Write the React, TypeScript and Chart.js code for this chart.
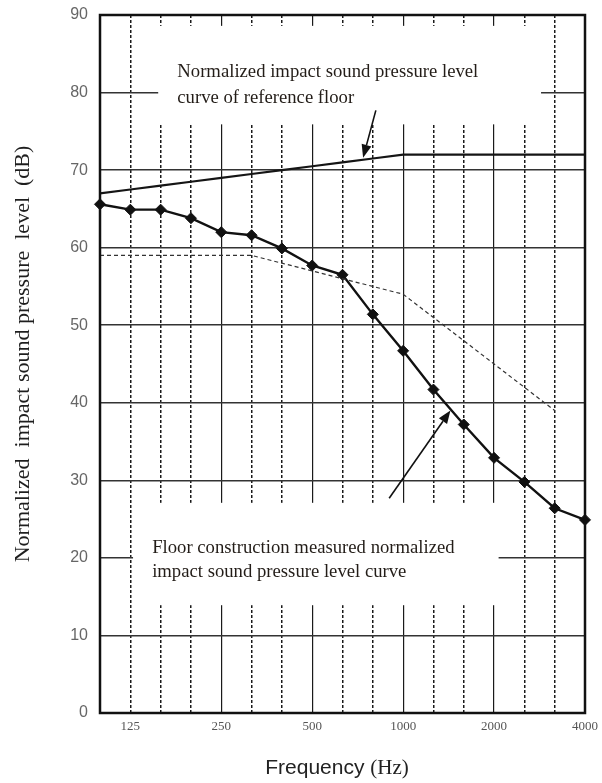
import { useEffect, useRef } from "react";
import { Chart, registerables } from "chart.js";

Chart.register(...registerables);

// ---- data ----
const frequencies = ["100", "125", "160", "200", "250", "315", "400", "500", "630", "800", "1000", "1250", "1600", "2000", "2500", "3150", "4000"];
const shownFrequencyLabels = ["125", "250", "500", "1000", "2000", "4000"];
const solidGridFrequencies = ["250", "500", "1000", "2000"];
const referenceFloorCurve = [67, 67.5, 68, 68.5, 69, 69.5, 70, 70.5, 71, 71.5, 72, 72, 72, 72, 72, 72, 72];
const measuredCurve = [65.6, 64.9, 64.9, 63.8, 62.0, 61.6, 59.9, 57.7, 56.5, 51.4, 46.7, 41.7, 37.2, 32.9, 29.8, 26.4, 24.9];
const dashedCurve = [59, 59, 59, 59, 59, 59, 58, 57, 56, 55, 54, 51, 48, 45, 42, 39, null];
const yMin = 0;
const yMax = 90;
const yStep = 10;

const referenceLabelLines = ["Normalized impact sound pressure level", "curve of reference floor"];
const measuredLabelLines = ["Floor construction measured normalized", "impact sound pressure level curve"];
const yTitle = "Normalized  impact sound pressure  level  (dB)";
const xTitleMain = "Frequency ";
const xTitleUnit = "(Hz)";

// annotation layout, in data coordinates (category index, dB)
const boxes = [
  { x0: 1.92, x1: 14.55, y0: 75.9, y1: 88.6 },
  { x0: 1.09, x1: 13.15, y0: 13.9, y1: 27.1 },
];
const labels = [
  { x: 2.55, ys: [82.7, 79.35], lines: referenceLabelLines },
  { x: 1.72, ys: [21.3, 18.2], lines: measuredLabelLines },
];
const arrows = [
  { x0: 9.1, y0: 77.7, x1: 8.68, y1: 71.6 },
  { x0: 9.54, y0: 27.7, x1: 11.56, y1: 39.0 },
];

const decorPlugin = {
  id: "decor",
  beforeDatasetsDraw(chart: any) {
    const { ctx } = chart;
    const xs = chart.scales.x;
    const ys = chart.scales.y;
    ctx.save();
    ctx.fillStyle = "#ffffff";
    for (const b of boxes) {
      const l = xs.getPixelForValue(b.x0);
      const r = xs.getPixelForValue(b.x1);
      const t = ys.getPixelForValue(b.y1);
      const bt = ys.getPixelForValue(b.y0);
      ctx.fillRect(l, t, r - l, bt - t);
    }
    ctx.fillStyle = "#231d18";
    ctx.font = "18.7px 'Liberation Serif', 'Times New Roman', serif";
    ctx.textAlign = "left";
    ctx.textBaseline = "middle";
    for (const lb of labels) {
      const x = xs.getPixelForValue(lb.x);
      lb.lines.forEach((line, i) => {
        ctx.fillText(line, x, ys.getPixelForValue(lb.ys[i]));
      });
    }
    ctx.restore();
  },
  afterDatasetsDraw(chart: any) {
    const { ctx } = chart;
    const xs = chart.scales.x;
    const ys = chart.scales.y;
    ctx.save();
    ctx.strokeStyle = "#111";
    ctx.fillStyle = "#111";
    ctx.lineWidth = 1.6;
    for (const a of arrows) {
      const x0 = xs.getPixelForValue(a.x0);
      const y0 = ys.getPixelForValue(a.y0);
      const x1 = xs.getPixelForValue(a.x1);
      const y1 = ys.getPixelForValue(a.y1);
      const ang = Math.atan2(y1 - y0, x1 - x0);
      const hl = 13;
      const hw = 5;
      const bx = x1 - hl * Math.cos(ang);
      const by = y1 - hl * Math.sin(ang);
      ctx.beginPath();
      ctx.moveTo(x0, y0);
      ctx.lineTo(bx, by);
      ctx.stroke();
      ctx.beginPath();
      ctx.moveTo(x1, y1);
      ctx.lineTo(bx + hw * Math.sin(ang), by - hw * Math.cos(ang));
      ctx.lineTo(bx - hw * Math.sin(ang), by + hw * Math.cos(ang));
      ctx.closePath();
      ctx.fill();
    }
    ctx.restore();
  },
  afterDraw(chart: any) {
    const { ctx, chartArea } = chart;
    ctx.save();
    ctx.strokeStyle = "#111";
    ctx.lineWidth = 2.5;
    ctx.strokeRect(chartArea.left, chartArea.top, chartArea.right - chartArea.left, chartArea.bottom - chartArea.top);

    // y title
    ctx.fillStyle = "#1e1e1e";
    ctx.font = "22px 'Liberation Serif', 'Times New Roman', serif";
    ctx.textAlign = "center";
    ctx.textBaseline = "middle";
    ctx.translate(23, 354);
    ctx.rotate(-Math.PI / 2);
    ctx.fillText(yTitle, 0, 0);
    ctx.restore();

    // x title
    ctx.save();
    ctx.textBaseline = "middle";
    ctx.textAlign = "left";
    const mainFont = "21px 'Liberation Sans', Arial, sans-serif";
    const unitFont = "21px 'Liberation Serif', 'Times New Roman', serif";
    ctx.font = mainFont;
    const w1 = ctx.measureText(xTitleMain).width;
    ctx.font = unitFont;
    const w2 = ctx.measureText(xTitleUnit).width;
    const cx = 337;
    const cy = 768;
    const startX = cx - (w1 + w2) / 2;
    ctx.fillStyle = "#222";
    ctx.font = mainFont;
    ctx.fillText(xTitleMain, startX, cy);
    ctx.font = unitFont;
    ctx.fillText(xTitleUnit, startX + w1, cy);
    ctx.restore();
  },
};

export default function App() {
  const canvasRef = useRef<HTMLCanvasElement | null>(null);

  useEffect(() => {
    if (!canvasRef.current) return;
    const chart = new Chart(canvasRef.current, {
      type: "line",
      data: {
        labels: frequencies,
        datasets: [
          {
            label: "Reference floor",
            data: referenceFloorCurve,
            borderColor: "#151515",
            borderWidth: 2.2,
            pointRadius: 0,
            tension: 0,
            fill: false,
          },
          {
            label: "Dashed",
            data: dashedCurve,
            borderColor: "#333",
            borderWidth: 1.2,
            borderDash: [4, 3],
            pointRadius: 0,
            tension: 0,
            fill: false,
          },
          {
            label: "Measured",
            data: measuredCurve,
            borderColor: "#111",
            borderWidth: 2.4,
            pointStyle: "rectRot",
            pointRadius: 5.5,
            pointBackgroundColor: "#111",
            pointBorderColor: "#111",
            pointBorderWidth: 1,
            tension: 0,
            fill: false,
            clip: false as any,
          },
        ],
      },
      options: {
        animation: false,
        responsive: true,
        maintainAspectRatio: false,
        layout: { padding: { top: 15, right: 17, left: 0, bottom: 0 } },
        plugins: {
          legend: { display: false },
          tooltip: { enabled: false },
        },
        scales: {
          x: {
            type: "category",
            offset: false,
            afterFit: (scale: any) => {
              scale.height = 70;
              scale.paddingLeft = 0;
              scale.paddingRight = 0;
            },
            grid: {
              drawTicks: false,
              color: "#1a1a1a",
              lineWidth: (ctx: any) => (solidGridFrequencies.includes(frequencies[ctx.index]) ? 1.2 : 1.5),
            },
            border: {
              display: false,
              dash: (ctx: any) => (solidGridFrequencies.includes(frequencies[ctx.index]) ? [] : [3, 2]),
            },
            ticks: {
              autoSkip: false,
              maxRotation: 0,
              padding: 6,
              color: "#555",
              font: { family: "'Liberation Serif', 'Times New Roman', serif", size: 13 },
              callback: (_v: any, index: number) =>
                shownFrequencyLabels.includes(frequencies[index]) ? frequencies[index] : "",
            },
          },
          y: {
            type: "linear",
            min: yMin,
            max: yMax,
            afterFit: (scale: any) => {
              scale.width = 100;
              scale.paddingTop = 0;
              scale.paddingBottom = 0;
            },
            grid: {
              drawTicks: false,
              color: "#333",
              lineWidth: 1.5,
            },
            border: { display: false },
            ticks: {
              stepSize: yStep,
              padding: 12,
              color: "#666",
              font: { family: "'Liberation Sans', Arial, sans-serif", size: 16 },
            },
          },
        },
      },
      plugins: [decorPlugin],
    });
    return () => chart.destroy();
  }, []);

  return (
    <div style={{ position: "fixed", left: 0, top: 0, width: 602, height: 783, background: "#fff" }}>
      <canvas ref={canvasRef} />
    </div>
  );
}
